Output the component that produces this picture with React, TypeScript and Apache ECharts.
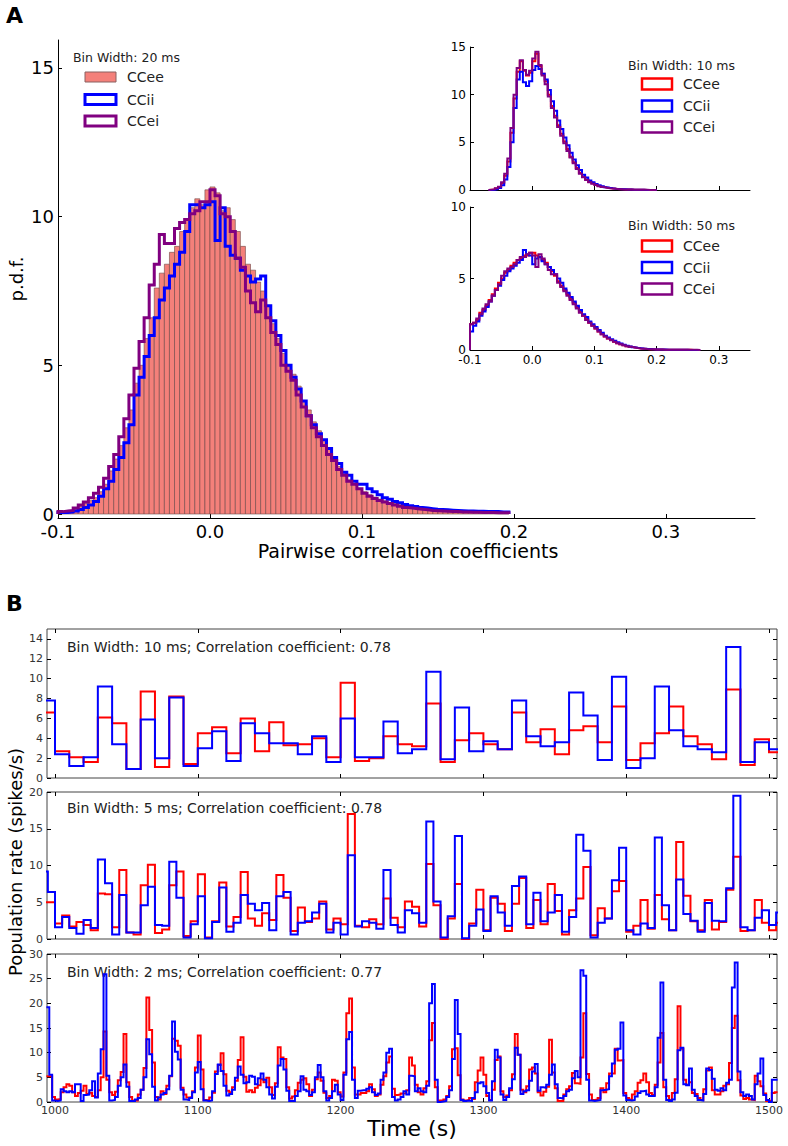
import React, { useEffect, useRef } from 'react';
import * as echarts from 'echarts';

const FONT = '"DejaVu Sans", "Liberation Sans", sans-serif';
const RED = '#ff0000';
const BLUE = '#0000ff';
const PURPLE = '#800080';
const SALMON = '#f4807a';

// ---------- Panel A, main histogram (bin width 1/300, starting at -0.1) ----------
const mainStart = -0.1;
const mainBin = 1 / 300;
const mainCCee = [
  0.1, 0.1, 0.12, 0.15, 0.25, 0.35, 0.45, 0.55, 0.75, 1.0,
  1.45, 1.85, 2.3, 2.9, 3.5, 4.4, 5.0, 5.9, 6.6, 7.6,
  8.1, 8.4, 8.8, 9.0, 9.5, 9.9, 10.3, 10.6, 10.4, 10.9,
  11.0, 10.8, 10.2, 10.3, 9.9, 9.5, 9.0, 8.4, 8.2, 7.8,
  7.5, 7.0, 6.4, 5.9, 5.4, 5.0, 4.7, 4.3, 3.8, 3.5,
  3.1, 2.8, 2.5, 2.2, 1.9, 1.6, 1.35, 1.15, 1.0, 0.85,
  0.75, 0.65, 0.57, 0.5, 0.44, 0.39, 0.35, 0.31, 0.28, 0.25,
  0.22, 0.2, 0.19, 0.17, 0.15, 0.14, 0.13, 0.12, 0.11, 0.1,
  0.1, 0.09, 0.09, 0.08, 0.08, 0.07, 0.07, 0.06, 0.06,
];
const mainCCii = [
  0.05, 0.05, 0.07, 0.1, 0.15, 0.22, 0.3, 0.42, 0.6, 0.85,
  1.1, 1.5, 1.9, 2.4, 3.0, 4.0, 4.6, 5.3, 6.0, 6.6,
  7.2, 7.6, 8.0, 8.4, 8.8, 9.5, 10.4, 10.4, 10.3, 10.4,
  10.5, 9.2, 10.3, 9.0, 8.7, 8.6, 8.2, 8.0, 7.8, 7.9,
  8.0, 7.0, 6.5, 6.0, 5.5, 5.0, 4.6, 4.2, 3.8, 3.3,
  3.0, 2.7, 2.5, 2.2, 1.9, 1.7, 1.4, 1.3, 1.1, 1.0,
  1.0, 0.85, 0.75, 0.65, 0.55, 0.5, 0.42, 0.38, 0.32, 0.28,
  0.25, 0.22, 0.2, 0.18, 0.16, 0.15, 0.14, 0.13, 0.12, 0.11,
  0.1, 0.1, 0.09, 0.09, 0.08, 0.08, 0.08, 0.07, 0.07,
];
const mainCCei = [
  0.08, 0.1, 0.12, 0.2, 0.3, 0.4, 0.55, 0.7, 0.9, 1.2,
  1.6, 2.0, 2.6, 3.2, 4.0, 4.9, 5.8, 6.6, 7.7, 8.4,
  9.4, 9.1, 9.1, 9.6, 9.8, 9.9, 10.1, 10.2, 10.5, 10.5,
  10.9, 10.7, 10.1, 10.0, 9.5, 8.6, 8.3, 7.5, 7.1, 6.8,
  7.2, 6.6, 6.1, 5.7, 5.0, 4.8, 4.5, 4.0, 3.6, 3.3,
  2.9, 2.6, 2.3, 2.0, 1.8, 1.5, 1.3, 1.1, 1.0, 0.85,
  0.7, 0.6, 0.52, 0.45, 0.4, 0.35, 0.3, 0.26, 0.22, 0.2,
  0.18, 0.16, 0.14, 0.12, 0.11, 0.1, 0.09, 0.08, 0.08, 0.07,
  0.07, 0.06, 0.06, 0.05, 0.05, 0.05, 0.04, 0.04, 0.04,
];

// ---------- Inset, bin width 10 ms (bins of 0.005 from -0.07) ----------
const in10Start = -0.07;
const in10Bin = 0.005;
const in10CCee = [0.03, 0.06, 0.15, 0.3, 0.7, 1.5, 3.0, 6.0, 9.6, 12.4, 13.5, 12.5, 12.0, 12.3, 13.5, 14.3, 13.0, 12.2, 11.4, 10.0, 8.8, 7.8, 6.8, 5.9, 5.1, 4.3, 3.5, 2.9, 2.3, 1.8, 1.4, 1.1, 0.85, 0.7, 0.55, 0.42, 0.33, 0.26, 0.2, 0.16, 0.12, 0.1, 0.08, 0.06, 0.05, 0.04, 0.03, 0.03, 0.02, 0.02, 0.01, 0.01, 0.01, 0];
const in10CCii = [0, 0.02, 0.08, 0.2, 0.5, 1.1, 2.4, 5.0, 8.6, 11.6, 12.4, 11.3, 10.9, 11.4, 12.6, 13.0, 12.7, 12.2, 11.6, 10.5, 9.3, 8.3, 7.3, 6.4, 5.5, 4.7, 3.9, 3.2, 2.6, 2.1, 1.6, 1.3, 1.0, 0.8, 0.63, 0.5, 0.39, 0.3, 0.23, 0.18, 0.14, 0.11, 0.09, 0.07, 0.05, 0.04, 0.03, 0.03, 0.02, 0.02, 0.01, 0.01, 0, 0];
const in10CCei = [0.04, 0.08, 0.18, 0.35, 0.8, 1.7, 3.3, 6.5, 10.0, 12.8, 13.6, 12.6, 12.1, 12.5, 13.8, 14.5, 13.1, 12.0, 11.1, 9.8, 8.6, 7.6, 6.6, 5.7, 4.9, 4.1, 3.4, 2.8, 2.2, 1.7, 1.35, 1.05, 0.82, 0.66, 0.52, 0.4, 0.31, 0.24, 0.19, 0.15, 0.12, 0.09, 0.07, 0.06, 0.05, 0.04, 0.03, 0.03, 0.02, 0.02, 0.02, 0.01, 0.01, 0.01];

// ---------- Inset, bin width 50 ms (bins of 0.005 from -0.1) ----------
const in50Start = -0.1;
const in50Bin = 0.005;
const in50CCee = [1.8, 1.9, 2.1, 2.6, 2.8, 3.1, 3.5, 3.9, 4.3, 4.7, 5.0, 5.4, 5.6, 5.9, 6.1, 6.3, 6.4, 6.6, 6.6, 6.8, 6.8, 6.6, 6.5, 6.3, 6.1, 5.8, 5.5, 5.2, 4.8, 4.5, 4.2, 3.9, 3.6, 3.3, 3.0, 2.7, 2.4, 2.2, 1.9, 1.7, 1.5, 1.3, 1.1, 0.95, 0.8, 0.7, 0.58, 0.48, 0.4, 0.33, 0.27, 0.22, 0.18, 0.14, 0.11, 0.09, 0.07, 0.06, 0.05, 0.04, 0.03, 0.03, 0.02, 0.02, 0.02, 0.01, 0.01, 0.01, 0.01, 0.01, 0.01, 0, 0, 0];
const in50CCii = [1.3, 1.7, 2.0, 2.4, 2.7, 3.0, 3.4, 3.8, 4.2, 4.5, 4.9, 5.2, 5.5, 5.7, 5.9, 6.1, 6.3, 7.0, 6.7, 6.6, 6.0, 6.4, 6.5, 6.2, 6.0, 5.8, 5.6, 5.3, 5.0, 4.7, 4.3, 4.0, 3.7, 3.4, 3.1, 2.8, 2.5, 2.3, 2.0, 1.8, 1.6, 1.4, 1.2, 1.0, 0.88, 0.75, 0.64, 0.54, 0.45, 0.37, 0.3, 0.25, 0.2, 0.16, 0.13, 0.1, 0.08, 0.07, 0.05, 0.04, 0.04, 0.03, 0.03, 0.02, 0.02, 0.02, 0.01, 0.01, 0.01, 0.01, 0, 0, 0, 0];
const in50CCei = [1.8, 1.9, 2.2, 2.5, 2.9, 3.2, 3.4, 3.8, 4.2, 4.6, 5.2, 5.5, 5.7, 5.8, 6.0, 6.3, 6.5, 6.5, 6.7, 6.8, 6.6, 5.8, 6.7, 6.4, 6.0, 5.6, 5.3, 5.3, 4.7, 4.4, 4.1, 3.8, 3.5, 3.2, 2.9, 2.6, 2.4, 2.1, 1.9, 1.7, 1.5, 1.3, 1.1, 0.95, 0.8, 0.68, 0.57, 0.48, 0.4, 0.33, 0.27, 0.22, 0.18, 0.14, 0.11, 0.09, 0.07, 0.06, 0.05, 0.04, 0.03, 0.03, 0.02, 0.02, 0.02, 0.02, 0.01, 0.01, 0.01, 0.01, 0.01, 0.01, 0.01, 0];

// ---------- Panel B, population rates ----------
const p1Start = 990;
const p1Bin = 10;
const p1Red = [6.6, 2.7, 2.1, 1.6, 6.1, 5.5, 0.9, 8.7, 1.1, 8.2, 1.4, 4.5, 5.1, 2.5, 6.0, 2.7, 5.6, 3.3, 3.4, 4.0, 2.1, 9.6, 1.7, 2.0, 4.2, 3.4, 3.2, 7.5, 1.6, 3.8, 4.5, 3.4, 2.9, 6.6, 3.6, 4.9, 2.4, 4.8, 5.2, 3.6, 7.2, 1.8, 3.5, 4.5, 7.2, 4.2, 3.4, 1.9, 8.9, 1.3, 3.9, 2.6];
const p1Blue = [7.8, 2.4, 1.2, 2.1, 9.2, 3.4, 0.9, 5.9, 2.0, 8.1, 1.2, 3.0, 4.7, 1.7, 5.5, 4.5, 3.5, 3.5, 2.4, 4.2, 1.6, 6.0, 2.1, 2.1, 5.7, 2.5, 2.9, 10.7, 1.9, 7.1, 2.7, 3.7, 2.9, 7.8, 4.2, 3.2, 3.6, 8.6, 6.3, 1.8, 10.2, 1.0, 2.0, 9.2, 4.8, 3.2, 2.9, 2.6, 13.2, 1.6, 3.6, 2.9];

const p2Start = 990;
const p2Bin = 5;
const p2Red = [5.0, 5.0, 2.1, 3.2, 1.7, 2.3, 1.9, 1.2, 6.2, 6.1, 1.6, 9.4, 0.9, 0.6, 7.3, 10.1, 0.8, 1.3, 7.3, 9.2, 0.4, 2.4, 8.8, 0.2, 2.4, 7.7, 1.7, 3.0, 9.1, 2.8, 1.8, 3.5, 2.6, 8.7, 5.6, 1.1, 4.3, 2.3, 2.8, 5.1, 1.3, 2.8, 2.0, 17.0, 1.8, 1.6, 2.7, 2.0, 5.5, 2.9, 1.6, 5.1, 4.4, 1.7, 10.2, 4.6, 0.0, 2.8, 7.5, 0.0, 2.1, 6.7, 1.2, 5.6, 4.8, 1.1, 4.8, 8.3, 1.5, 5.3, 2.0, 7.5, 3.8, 0.6, 3.9, 5.5, 9.8, 0.5, 4.2, 2.8, 6.5, 7.9, 1.0, 1.8, 5.3, 1.4, 6.0, 2.7, 1.2, 13.2, 5.9, 2.4, 1.2, 5.3, 1.3, 2.3, 6.7, 11.2, 1.1, 1.2, 5.3, 2.2, 1.2, 2.2];
const p2Blue = [9.2, 6.4, 1.6, 3.0, 1.5, 0.7, 2.6, 1.5, 10.8, 7.6, 0.6, 6.0, 0.9, 0.9, 4.6, 7.1, 1.9, 1.8, 10.5, 5.6, 0.2, 2.0, 5.8, 0.1, 2.3, 7.0, 1.0, 2.2, 6.0, 4.8, 3.9, 4.9, 1.2, 5.8, 6.4, 0.6, 2.2, 2.4, 3.6, 4.8, 0.9, 2.2, 0.6, 11.4, 1.7, 2.4, 2.2, 1.4, 9.4, 1.9, 0.9, 3.9, 3.5, 2.2, 16.0, 5.1, 0.2, 3.1, 14.0, 0.1, 1.8, 4.0, 1.1, 5.8, 3.6, 1.8, 7.2, 8.5, 2.0, 6.3, 2.4, 3.6, 6.0, 1.0, 3.0, 14.2, 12.0, 0.2, 2.2, 2.8, 8.0, 12.4, 1.2, 0.6, 2.1, 1.5, 13.8, 4.6, 1.2, 8.1, 3.4, 2.5, 1.0, 4.9, 2.5, 2.4, 6.9, 19.5, 1.6, 1.2, 2.9, 3.9, 1.9, 3.6];

const p3Start = 994;
const p3Bin = 2;
const p3Red = [
  5.2, 5.2, 1.0, 0.5, 0.6, 2.0, 3.0, 3.6, 3.3, 2.0, 1.2, 1.8, 2.3, 3.3, 1.6, 1.9, 1.2, 1.0, 2.4, 5.0, 14.3, 4.5, 2.0,
  1.4, 2.1, 4.4, 6.1, 13.8, 4.0, 1.0, 0.3, 0.3, 1.5, 2.5, 6.9, 21.2, 14.6, 8.0, 1.0, 0.5, 2.2, 1.6, 3.3, 5.2, 12.8, 12.4, 11.4, 2.9, 1.5, 0.9, 1.0, 2.2, 7.0,
  13.5, 6.6, 0.4, 0.3, 0.9, 1.9, 6.2, 7.5, 9.9, 5.6, 2.3, 2.0, 3.0, 4.3, 8.5, 13.1, 5.1, 2.1, 2.4, 2.0, 2.9, 3.4, 4.6, 4.0, 4.9, 3.0, 1.4, 3.8, 11.1, 9.0, 8.7, 3.0, 0.7, 1.1, 2.4, 3.9, 4.5, 4.8, 3.6, 1.2, 2.5, 4.6, 6.0, 4.3, 1.9, 0.8, 1.2, 4.5, 4.3, 2.0,
  1.1, 6.0, 18.0, 21.0, 7.0, 1.5, 1.5, 1.8, 1.8, 2.2, 3.6, 2.6, 1.2, 1.5, 3.5, 5.2, 8.0, 9.2, 2.7, 1.4, 1.5, 1.7, 1.8, 2.4, 9.0, 7.4, 3.5, 2.0, 1.5, 2.8, 4.2, 12.5, 16.0, 3.0, 0.3, 0.3, 0.5, 1.2, 3.2, 10.7, 10.9, 5.4, 0.5, 0.3, 0.4, 0.8, 0.6, 4.0, 6.4, 9.0,
  5.5, 1.2, 0.4, 2.5, 8.5, 9.2, 2.2, 1.0, 1.3, 2.4, 5.6, 13.8, 9.6, 2.5, 2.0, 3.2, 6.6, 7.0, 5.8, 2.0, 1.3, 2.1, 3.1, 12.6, 6.0, 2.8, 0.2, 0.2, 1.5, 2.6, 3.2, 5.9, 3.8, 3.7, 9.0, 18.0, 5.7, 1.5, 0.4, 0.5, 0.8, 2.8, 2.0, 3.8, 5.8, 5.8, 10.8, 8.4, 8.5, 1.8,
  0.8, 0.5, 1.5, 2.2, 3.9, 4.4, 5.8, 4.0, 1.8, 1.4, 3.5, 8.0, 14.0, 3.0, 1.2, 0.4, 1.8, 4.6, 19.4, 10.8, 4.5, 3.5, 4.0, 1.8, 1.6, 0.8, 0.4, 2.6, 6.4, 7.0, 2.4, 1.5, 1.5, 2.2, 3.3, 3.6, 7.9, 15.0, 17.5, 4.4, 1.3, 0.6, 0.8, 0.5, 0.4, 5.3, 4.2, 3.2, 1.7, 0.2, 0.3, 1.8, 2.0,
];
const p3Blue = [
  19.2, 5.5, 0.3, 0.2, 0.3, 2.6, 2.2, 2.0, 2.2, 2.0, 3.6, 3.6, 0.2, 1.4, 1.5, 2.4, 4.2, 0.9, 5.8, 10.7, 25.9, 5.3, 0.3,
  0.4, 1.0, 3.3, 5.0, 7.6, 3.1, 0.2, 0.2, 0.5, 0.8, 2.5, 5.0, 12.7, 9.7, 3.1, 0.3, 0.9, 1.5, 1.8, 2.6, 5.3, 16.3, 10.2, 8.6, 2.5, 0.5, 0.4, 0.8, 2.0, 6.0,
  8.1, 2.6, 0.3, 0.2, 0.3, 2.2, 5.7, 7.6, 6.3, 3.3, 1.3, 1.6, 2.5, 4.9, 7.2, 5.5, 3.8, 4.0, 5.3, 5.1, 3.6, 4.8, 5.8, 4.5, 3.0, 1.5, 0.7, 3.1, 7.4, 8.7, 6.6, 2.3, 0.2, 0.2, 1.2, 2.2, 5.2, 2.5, 2.2, 1.4, 2.0, 5.0, 7.5, 5.0, 2.2, 0.3, 0.8, 2.2, 3.5, 1.5,
  0.4, 5.5, 12.7, 14.2, 4.5, 0.8, 2.3, 2.4, 2.4, 2.7, 3.0, 2.0, 1.4, 1.7, 4.5, 6.0, 10.0, 10.8, 1.0, 0.3, 0.5, 1.0, 2.2, 1.5, 5.3, 5.2, 2.2, 2.8, 2.2, 2.0, 3.3, 20.0, 23.9, 4.5, 0.0, 0.1, 0.2, 1.0, 2.4, 8.7, 20.7, 13.8, 0.4, 0.2, 0.3, 0.2, 0.8, 2.0, 3.8, 4.0,
  3.2, 1.8, 0.3, 4.2, 10.6, 9.0, 1.5, 0.4, 1.0, 2.8, 4.6, 11.0, 9.6, 1.6, 2.2, 2.4, 4.3, 6.2, 7.7, 2.3, 3.0, 2.9, 3.5, 5.5, 7.6, 3.6, 0.8, 0.7, 1.2, 2.2, 2.5, 4.8, 6.3, 5.0, 26.7, 25.6, 4.5, 0.3, 0.2, 0.3, 0.4, 2.4, 2.5, 2.6, 5.2, 7.8, 10.6, 10.8, 16.1, 1.3,
  0.4, 0.3, 0.4, 1.1, 1.8, 2.2, 2.3, 1.5, 1.2, 1.2, 3.0, 13.0, 24.2, 4.5, 0.4, 0.2, 0.5, 1.9, 10.5, 11.0, 3.6, 3.4, 6.8, 2.5, 1.2, 0.4, 0.3, 1.6, 6.8, 6.5, 4.7, 2.5, 2.3, 2.8, 2.4, 3.9, 4.5, 23.2, 28.3, 6.2, 2.0, 1.2, 1.5, 1.2, 0.5, 3.6, 5.8, 8.8, 1.4, 0.4, 0.0, 4.5, 4.5,
];

const corrTicks = [-0.1, 0, 0.1, 0.2, 0.3];
const timeTicks = [1000, 1100, 1200, 1300, 1400, 1500];

function histRects(start: number, w: number, vals: number[]) {
  return vals.map((v, i) => [start + i * w, start + (i + 1) * w, v]);
}
function stepPts(start: number, w: number, vals: number[], closed: boolean) {
  const pts: number[][] = [];
  if (closed) pts.push([start, 0]);
  vals.forEach((v, i) => pts.push([start + i * w, v]));
  const end = start + vals.length * w;
  pts.push([end, vals[vals.length - 1]]);
  if (closed) pts.push([end, 0]);
  return pts;
}

function stepSeries(name: string, xi: number, yi: number, data: number[][], color: string, width: number) {
  return {
    type: 'line', name, xAxisIndex: xi, yAxisIndex: yi, data, step: 'end',
    showSymbol: false, symbol: 'none', silent: true, clip: true,
    lineStyle: { color, width, join: 'miter' }, emphasis: { disabled: true },
  };
}

const tickCol = '#000';

function valueX(grid: number, min: number, max: number, ticks: number[], opts: any) {
  return {
    type: 'value', gridIndex: grid, min, max, position: opts.position || 'bottom',
    axisLine: { show: !!opts.line, onZero: false, lineStyle: { color: '#000', width: 1 } },
    axisTick: { show: true, inside: true, length: opts.tickLen || 4, customValues: ticks, lineStyle: { color: tickCol } },
    axisLabel: {
      show: !!opts.labels, customValues: ticks, margin: opts.margin ?? 4,
      fontFamily: FONT, fontSize: opts.fontSize || 12, color: opts.color || '#000',
      formatter: opts.fmt,
    },
    splitLine: { show: false },
  };
}
function valueY(grid: number, min: number, max: number, ticks: number[], opts: any) {
  return {
    type: 'value', gridIndex: grid, min, max, position: opts.position || 'left',
    axisLine: { show: !!opts.line, onZero: false, lineStyle: { color: '#000', width: 1 } },
    axisTick: { show: true, inside: true, length: opts.tickLen || 4, customValues: ticks, lineStyle: { color: tickCol } },
    axisLabel: {
      show: !!opts.labels, customValues: ticks, margin: opts.margin ?? 4,
      fontFamily: FONT, fontSize: opts.fontSize || 12, color: opts.color || '#000',
    },
    splitLine: { show: false },
  };
}

function legendBlock(x: number, titleY: number, rows: number[], rectX: number, textX: number, items: any[], rectW: number, rectH: number) {
  const els: any[] = [
    { type: 'text', x, y: titleY, style: { text: items[0].title, font: `12.5px ${FONT}`, fill: '#222', textVerticalAlign: 'middle', verticalAlign: 'middle' } },
  ];
  items.forEach((it, i) => {
    els.push({
      type: 'rect', shape: { x: rectX, y: rows[i] - rectH / 2, width: rectW, height: rectH },
      style: { fill: it.fill, stroke: it.stroke, lineWidth: it.lw },
    });
    els.push({
      type: 'text', x: textX, y: rows[i], style: { text: it.label, font: `14px ${FONT}`, fill: '#222', textVerticalAlign: 'middle', verticalAlign: 'middle' },
    });
  });
  return els;
}

export default function App() {
  const ref = useRef<HTMLDivElement>(null);
  useEffect(() => {
    document.body.style.margin = '0';
    const chart = echarts.init(ref.current!, null, { renderer: 'svg', width: 788, height: 1146 });

    const fmt1 = (v: number) => v.toFixed(1);
    const stepLegend = (title: string) => [
      { title, label: 'CCee', fill: '#fff', stroke: RED, lw: 2.5 },
      { title, label: 'CCii', fill: '#fff', stroke: BLUE, lw: 2.5 },
      { title, label: 'CCei', fill: '#fff', stroke: PURPLE, lw: 2.5 },
    ];
    const mainLegend = [
      { title: 'Bin Width: 20 ms', label: 'CCee', fill: SALMON, stroke: '#8a6060', lw: 1 },
      { title: 'Bin Width: 20 ms', label: 'CCii', fill: '#fff', stroke: BLUE, lw: 3 },
      { title: 'Bin Width: 20 ms', label: 'CCei', fill: '#fff', stroke: PURPLE, lw: 3 },
    ];

    const panelGrid = (top: number, height: number) => ({
      left: 47, top, width: 730, height, show: true, borderColor: '#444', borderWidth: 1, backgroundColor: 'transparent',
    });

    const midText = (x: number, y: number, text: string, font: string, extra: any = {}) => ({
      type: 'text', x, y, ...extra,
      style: { text, font, fill: '#000', textAlign: 'center', align: 'center', textVerticalAlign: 'middle', verticalAlign: 'middle' },
    });
    const leftText = (x: number, y: number, text: string, font: string, fill = '#222') => ({
      type: 'text', x, y, style: { text, font, fill, textVerticalAlign: 'middle', verticalAlign: 'middle' },
    });

    const option: any = {
      animation: false,
      backgroundColor: '#fff',
      grid: [
        { left: 58, top: 40, width: 697, height: 478 },
        { left: 470, top: 47, width: 280, height: 143 },
        { left: 470, top: 207, width: 280, height: 143 },
        panelGrid(629, 149),
        panelGrid(792, 147),
        panelGrid(954, 148),
      ],
      xAxis: [
        valueX(0, -0.1, 0.3586, corrTicks, { line: true, labels: true, fontSize: 18, fmt: fmt1, margin: 4, tickLen: 4 }),
        valueX(1, -0.1, 0.35, corrTicks, { line: true, labels: false }),
        valueX(2, -0.1, 0.35, corrTicks, { line: true, labels: true, fontSize: 12, fmt: fmt1, margin: 4 }),
        valueX(3, 994.4, 1505.6, timeTicks, { labels: false }),
        valueX(3, 994.4, 1505.6, timeTicks, { labels: false, position: 'top' }),
        valueX(4, 994.4, 1505.6, timeTicks, { labels: false }),
        valueX(4, 994.4, 1505.6, timeTicks, { labels: false, position: 'top' }),
        valueX(5, 994.4, 1505.6, timeTicks, { labels: true, fontSize: 11, color: '#333', margin: 3, fmt: (v: number) => String(Math.round(v)) }),
        valueX(5, 994.4, 1505.6, timeTicks, { labels: false, position: 'top' }),
      ],
      yAxis: [
        valueY(0, -0.1345, 15.94, [0, 5, 10, 15], { line: true, labels: true, fontSize: 18, margin: 4 }),
        valueY(1, 0, 15, [0, 5, 10, 15], { line: true, labels: true, fontSize: 12, margin: 4 }),
        valueY(2, 0, 10, [0, 5, 10], { line: true, labels: true, fontSize: 12, margin: 4 }),
        valueY(3, 0, 15, [0, 2, 4, 6, 8, 10, 12, 14], { labels: true, fontSize: 11, color: '#333', margin: 4 }),
        valueY(3, 0, 15, [0, 2, 4, 6, 8, 10, 12, 14], { labels: false, position: 'right' }),
        valueY(4, 0, 20, [0, 5, 10, 15, 20], { labels: true, fontSize: 11, color: '#333', margin: 4 }),
        valueY(4, 0, 20, [0, 5, 10, 15, 20], { labels: false, position: 'right' }),
        valueY(5, 0, 30, [0, 5, 10, 15, 20, 25, 30], { labels: true, fontSize: 11, color: '#333', margin: 4 }),
        valueY(5, 0, 30, [0, 5, 10, 15, 20, 25, 30], { labels: false, position: 'right' }),
      ],
      series: [
        {
          type: 'custom', name: 'CCee 20ms', xAxisIndex: 0, yAxisIndex: 0, silent: true,
          data: histRects(mainStart, mainBin, mainCCee),
          encode: { x: [0, 1], y: 2 },
          renderItem: (_p: any, api: any) => {
            const a = api.coord([api.value(0), api.value(2)]);
            const b = api.coord([api.value(1), 0]);
            return {
              type: 'rect',
              shape: { x: a[0], y: a[1], width: b[0] - a[0], height: b[1] - a[1] },
              style: { fill: SALMON, stroke: '#6e4646', lineWidth: 0.6 },
            };
          },
        },
        stepSeries('CCii 20ms', 0, 0, stepPts(mainStart, mainBin, mainCCii, true), BLUE, 3),
        stepSeries('CCei 20ms', 0, 0, stepPts(mainStart, mainBin, mainCCei, true), PURPLE, 3),

        stepSeries('CCee 10ms', 1, 1, stepPts(in10Start, in10Bin, in10CCee, true), RED, 2),
        stepSeries('CCii 10ms', 1, 1, stepPts(in10Start, in10Bin, in10CCii, true), BLUE, 2),
        stepSeries('CCei 10ms', 1, 1, stepPts(in10Start, in10Bin, in10CCei, true), PURPLE, 2),

        stepSeries('CCee 50ms', 2, 2, stepPts(in50Start, in50Bin, in50CCee, true), RED, 2),
        stepSeries('CCii 50ms', 2, 2, stepPts(in50Start, in50Bin, in50CCii, true), BLUE, 2),
        stepSeries('CCei 50ms', 2, 2, stepPts(in50Start, in50Bin, in50CCei, true), PURPLE, 2),

        stepSeries('E 10ms', 3, 3, stepPts(p1Start, p1Bin, p1Red, false), RED, 2),
        stepSeries('I 10ms', 3, 3, stepPts(p1Start, p1Bin, p1Blue, false), BLUE, 2),
        stepSeries('E 5ms', 5, 5, stepPts(p2Start, p2Bin, p2Red, false), RED, 2),
        stepSeries('I 5ms', 5, 5, stepPts(p2Start, p2Bin, p2Blue, false), BLUE, 2),
        stepSeries('E 2ms', 7, 7, stepPts(p3Start, p3Bin, p3Red, false), RED, 2),
        stepSeries('I 2ms', 7, 7, stepPts(p3Start, p3Bin, p3Blue, false), BLUE, 2),
      ],
      graphic: [
        leftText(6, 15, 'A', `bold 22px ${FONT}`, '#000'),
        leftText(6, 603, 'B', `bold 22px ${FONT}`, '#000'),
        midText(408, 551, 'Pairwise correlation coefficients', `19px ${FONT}`),
        midText(16, 279, 'p.d.f.', `18px ${FONT}`, { rotation: Math.PI / 2 }),
        midText(15, 862, 'Population rate (spikes/s)', `18px ${FONT}`, { rotation: Math.PI / 2 }),
        midText(412, 1128, 'Time (s)', `22px ${FONT}`),
        leftText(67, 647, 'Bin Width: 10 ms; Correlation coefficient: 0.78', `14px ${FONT}`),
        leftText(67, 808, 'Bin Width: 5 ms; Correlation coefficient: 0.78', `14px ${FONT}`),
        leftText(67, 972, 'Bin Width: 2 ms; Correlation coefficient: 0.77', `14px ${FONT}`),
        ...legendBlock(73, 57, [77, 99.5, 121], 85, 127, mainLegend, 31, 10),
        ...legendBlock(628, 65, [84, 106, 127], 642, 683, stepLegend('Bin Width: 10 ms'), 30, 11),
        ...legendBlock(628, 225, [246, 267.5, 289], 642, 683, stepLegend('Bin Width: 50 ms'), 30, 11),
      ],
    };
    chart.setOption(option);
    return () => chart.dispose();
  }, []);
  return <div ref={ref} style={{ width: 788, height: 1146 }} />;
}
